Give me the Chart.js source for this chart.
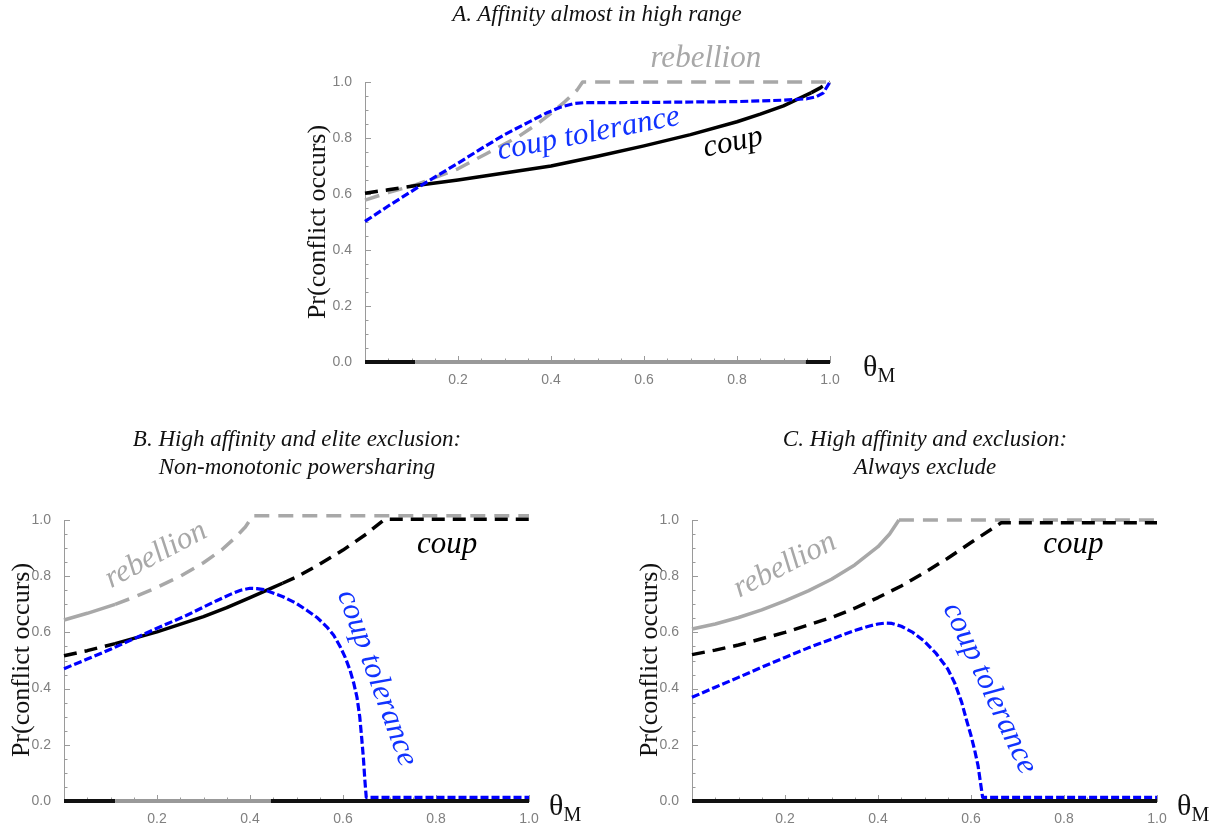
<!DOCTYPE html>
<html>
<head>
<meta charset="utf-8">
<script src="https://cdn.jsdelivr.net/npm/chart.js@4.4.1/dist/chart.umd.min.js"></script>
<style>
  body { margin: 0; background: #fff; width: 1226px; height: 829px; position: relative; overflow: hidden; font-family: "Liberation Serif", "DejaVu Serif", serif; }
  canvas { position: absolute; left: 0; top: 0; }
  .title { position: absolute; width: 500px; font-style: italic; font-size: 23px; line-height: 28px; text-align: center; color: #111; }
  .ylab { position: absolute; width: 300px; height: 30px; font-size: 26px; line-height: 30px; text-align: center; transform: rotate(-90deg); white-space: nowrap; color: #111; }
  .theta { position: absolute; font-size: 30px; line-height: 34px; white-space: nowrap; color: #111; }
  .theta sub { font-size: 20px; vertical-align: baseline; position: relative; top: 6px; }
</style>
</head>
<body>
<canvas id="chartA" width="1226" height="829"></canvas>
<canvas id="chartB" width="1226" height="829"></canvas>
<canvas id="chartC" width="1226" height="829"></canvas>

<div class="title" style="left:347px; top:0px;">A. Affinity almost in high range</div>
<div class="title" style="left:47px; top:425px;">B. High affinity and elite exclusion:<br>Non-monotonic powersharing</div>
<div class="title" style="left:675px; top:425px;">C. High affinity and exclusion:<br>Always exclude</div>

<div class="ylab" style="left:167px; top:207px;">Pr(conflict occurs)</div>
<div class="ylab" style="left:-129px; top:645px;">Pr(conflict occurs)</div>
<div class="ylab" style="left:499px; top:645px;">Pr(conflict occurs)</div>

<div class="theta" style="left:863px; top:349px;">θ<sub>M</sub></div>
<div class="theta" style="left:549px; top:788px;">θ<sub>M</sub></div>
<div class="theta" style="left:1177px; top:788px;">θ<sub>M</sub></div>

<script>
// ---- Panel A: affinity almost in high range ----
const aRebelX = [0, 0.05, 0.11, 0.2, 0.26, 0.33, 0.37, 0.40, 0.43, 0.456, 0.468, 0.7, 1.0];
const aRebelY = [0.578, 0.605, 0.633, 0.69, 0.743, 0.805, 0.85, 0.888, 0.93, 0.971, 1.0, 1.0, 1.0];
const aCoupX = [0, 0.05, 0.11, 0.2, 0.3, 0.4, 0.5, 0.6, 0.7, 0.8, 0.85, 0.9, 0.96, 0.98, 1.0];
const aCoupY = [0.603, 0.615, 0.63, 0.65, 0.675, 0.70, 0.735, 0.772, 0.812, 0.858, 0.885, 0.915, 0.962, 0.98, 1.0];
const aTolX = [0, 0.05, 0.11, 0.2, 0.25, 0.3, 0.35, 0.39, 0.42, 0.45, 0.47, 0.6, 0.8, 0.9, 0.95, 0.97, 0.985, 1.0];
const aTolY = [0.502, 0.557, 0.62, 0.71, 0.762, 0.812, 0.855, 0.889, 0.91, 0.923, 0.926, 0.927, 0.93, 0.935, 0.94, 0.947, 0.96, 1.0];
const aCoupSolid = [0.11, 0.96];
const aRegimeX = [0, 0.108, 0.948, 1.0];
const aRegime = ['coup', 'rebellion', 'coup'];

// ---- Panel B: high affinity and elite exclusion ----
const bRebelX = [0, 0.05, 0.11, 0.15, 0.2, 0.25, 0.3, 0.34, 0.37, 0.39, 0.406, 0.7, 1.0];
const bRebelY = [0.644, 0.668, 0.70, 0.725, 0.76, 0.80, 0.848, 0.895, 0.94, 0.975, 1.015, 1.015, 1.015];
const bCoupX = [0, 0.05, 0.11, 0.2, 0.3, 0.35, 0.4, 0.45, 0.47, 0.5, 0.55, 0.6, 0.65, 0.69, 1.0];
const bCoupY = [0.517, 0.535, 0.56, 0.602, 0.656, 0.688, 0.724, 0.76, 0.775, 0.797, 0.843, 0.893, 0.95, 1.003, 1.003];
const bTolX = [0, 0.05, 0.1, 0.15, 0.2, 0.263, 0.327, 0.36, 0.38, 0.4, 0.415, 0.43, 0.471, 0.5, 0.522, 0.545, 0.565, 0.58, 0.594, 0.605, 0.615, 0.623, 0.63, 0.636, 0.64, 0.644, 0.647, 0.65, 1.0];
const bTolY = [0.471, 0.505, 0.54, 0.577, 0.615, 0.66, 0.712, 0.737, 0.75, 0.757, 0.756, 0.752, 0.727, 0.703, 0.679, 0.652, 0.62, 0.59, 0.549, 0.51, 0.466, 0.42, 0.37, 0.30, 0.228, 0.15, 0.074, 0.013, 0.013];
const bRebelSolid = [0, 0.11];
const bCoupSolid = [0.11, 0.47];
const bRegimeX = [0, 0.11, 0.445, 1.0];
const bRegime = ['coup', 'rebellion', 'coup'];

// ---- Panel C: high affinity and exclusion ----
const cRebelX = [0, 0.05, 0.1, 0.15, 0.2, 0.25, 0.3, 0.35, 0.4, 0.425, 0.445, 0.7, 1.0];
const cRebelY = [0.612, 0.63, 0.653, 0.68, 0.712, 0.748, 0.789, 0.84, 0.905, 0.95, 1.0, 1.0, 1.0];
const cCoupX = [0, 0.05, 0.1, 0.2, 0.3, 0.35, 0.4, 0.45, 0.5, 0.55, 0.6, 0.665, 1.0];
const cCoupY = [0.521, 0.537, 0.555, 0.60, 0.653, 0.686, 0.724, 0.765, 0.813, 0.864, 0.92, 0.99, 0.99];
const cTolX = [0, 0.05, 0.1, 0.15, 0.2, 0.25, 0.3, 0.35, 0.38, 0.4, 0.415, 0.43, 0.45, 0.475, 0.5, 0.525, 0.55, 0.565, 0.58, 0.59, 0.6, 0.608, 0.615, 0.62, 0.625, 1.0];
const cTolY = [0.369, 0.405, 0.44, 0.476, 0.511, 0.545, 0.576, 0.607, 0.622, 0.63, 0.633, 0.632, 0.622, 0.60, 0.568, 0.525, 0.47, 0.42, 0.351, 0.29, 0.233, 0.18, 0.127, 0.07, 0.013, 0.013];
const cRebelSolid = [0, 0.445];
const cRegimeX = [0, 1.0];
const cRegime = ['coup'];

const GRAY = '#a8a8a8';
const BLUE = '#0000ff';
const regimeColor = { coup: '#111111', rebellion: '#999999' };

function pts(xs, ys) {
  return xs.map((x, i) => ({ x: x, y: ys[i] }));
}

// dashed series, with an optional solid stretch
function series(xs, ys, color, width, dash, solid) {
  return {
    data: pts(xs, ys),
    borderColor: color,
    borderWidth: width,
    segment: {
      borderDash: ctx => {
        if (solid && ctx.p0.parsed.x >= solid[0] - 1e-9 && ctx.p1.parsed.x <= solid[1] + 1e-9) return [];
        return dash;
      }
    }
  };
}

function regimeBand(xs, regimes) {
  return {
    data: xs.map(x => ({ x: x, y: 0 })),
    borderWidth: 4,
    borderColor: regimeColor[regimes[0]],
    segment: { borderColor: ctx => regimeColor[regimes[ctx.p0DataIndex]] }
  };
}

// inward ticks like the original axes
const axisTicks = {
  id: 'axisTicks',
  beforeDatasetsDraw(chart) {
    const { ctx, scales: { x, y } } = chart;
    ctx.save();
    ctx.strokeStyle = '#9a9a9a';
    ctx.lineWidth = 1;
    for (let i = 1; i <= 20; i++) {
      const len = i % 4 === 0 ? 6 : 3.5;
      const px = Math.round(x.getPixelForValue(i / 20)) + 0.5;
      ctx.beginPath();
      ctx.moveTo(px, y.bottom);
      ctx.lineTo(px, y.bottom - len);
      ctx.stroke();
    }
    for (let i = 1; i <= 20; i++) {
      const len = i % 4 === 0 ? 6 : 3.5;
      const py = Math.round(y.getPixelForValue(i / 20)) + 0.5;
      ctx.beginPath();
      ctx.moveTo(x.left, py);
      ctx.lineTo(x.left + len, py);
      ctx.stroke();
    }
    ctx.restore();
  }
};

// curve labels placed in data coordinates
const notes = {
  id: 'notes',
  afterDatasetsDraw(chart, args, opts) {
    const { ctx, scales: { x, y } } = chart;
    (opts.items || []).forEach(n => {
      ctx.save();
      ctx.translate(x.getPixelForValue(n.x), y.getPixelForValue(n.y));
      ctx.rotate(n.rot * Math.PI / 180);
      ctx.font = 'italic 31px "Liberation Serif", serif';
      ctx.fillStyle = n.color;
      ctx.textAlign = 'center';
      ctx.textBaseline = 'alphabetic';
      ctx.fillText(n.text, 0, 0);
      ctx.restore();
    });
  }
};

function makePanel(id, padding, datasets, items) {
  new Chart(document.getElementById(id), {
    type: 'line',
    data: { datasets: datasets },
    options: {
      responsive: false,
      animation: false,
      layout: { padding: padding },
      plugins: { legend: { display: false }, tooltip: { enabled: false }, notes: { items: items } },
      elements: { point: { radius: 0 }, line: { tension: 0, borderCapStyle: 'butt', borderJoinStyle: 'round' } },
      datasets: { line: { clip: false } },
      scales: {
        x: {
          type: 'linear', min: 0, max: 1,
          grid: { display: false },
          border: { display: true, color: '#9a9a9a', width: 1 },
          ticks: {
            stepSize: 0.2, padding: 2, color: '#808080',
            font: { family: '"Liberation Sans", sans-serif', size: 14 },
            callback: v => Math.abs(v) < 1e-9 ? '' : v.toFixed(1)
          },
          afterFit: s => { s.height = 24; }
        },
        y: {
          type: 'linear', min: 0, max: 1,
          grid: { display: false },
          border: { display: true, color: '#9a9a9a', width: 1 },
          ticks: {
            stepSize: 0.2, padding: 5, color: '#808080',
            font: { family: '"Liberation Sans", sans-serif', size: 14 },
            callback: v => v.toFixed(1)
          },
          afterFit: s => { s.width = 40; }
        }
      }
    },
    plugins: [axisTicks, notes]
  });
}

makePanel('chartA', { left: 325, right: 396, top: 82, bottom: 443 }, [
  series(aTolX, aTolY, BLUE, 3.2, [8, 3]),
  series(aCoupX, aCoupY, '#000', 3.5, [13, 8], aCoupSolid),
  series(aRebelX, aRebelY, GRAY, 3.5, [15, 9]),
  regimeBand(aRegimeX, aRegime)
], [
  { text: 'rebellion', x: 0.733, y: 1.054, rot: 0, color: GRAY },
  { text: 'coup tolerance', x: 0.484, y: 0.786, rot: -11, color: '#1133ff' },
  { text: 'coup', x: 0.795, y: 0.755, rot: -12, color: '#000' }
]);

makePanel('chartB', { left: 24, right: 697, top: 520, bottom: 4 }, [
  series(bTolX, bTolY, BLUE, 3.2, [8, 3]),
  series(bCoupX, bCoupY, '#000', 3.5, [13, 8], bCoupSolid),
  series(bRebelX, bRebelY, GRAY, 3.5, [15, 9], bRebelSolid),
  regimeBand(bRegimeX, bRegime)
], [
  { text: 'rebellion', x: 0.206, y: 0.85, rot: -28, color: GRAY },
  { text: 'coup', x: 0.824, y: 0.883, rot: 0, color: '#000' },
  { text: 'coup tolerance', x: 0.656, y: 0.427, rot: 70, color: '#1133ff' }
]);

makePanel('chartC', { left: 652, right: 69, top: 520, bottom: 4 }, [
  series(cTolX, cTolY, BLUE, 3.2, [8, 3]),
  series(cCoupX, cCoupY, '#000', 3.5, [13, 8]),
  series(cRebelX, cRebelY, GRAY, 3.5, [15, 9], cRebelSolid),
  regimeBand(cRegimeX, cRegime)
], [
  { text: 'rebellion', x: 0.208, y: 0.813, rot: -27, color: GRAY },
  { text: 'coup', x: 0.82, y: 0.884, rot: 0, color: '#000' },
  { text: 'coup tolerance', x: 0.624, y: 0.388, rot: 65, color: '#1133ff' }
]);
</script>
</body>
</html>
